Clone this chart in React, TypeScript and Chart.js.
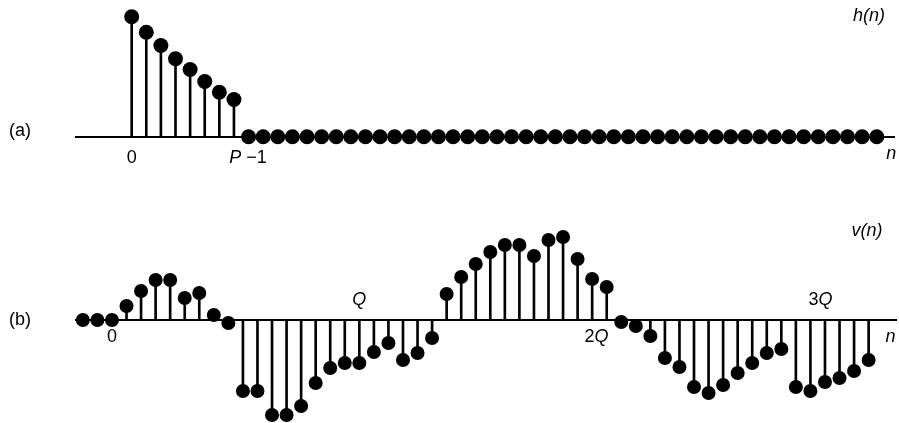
import React, { useEffect, useRef } from "react";
import { Chart, registerables } from "chart.js";

Chart.register(...registerables);

// ---------------- data ----------------
// (a) h(n): first sample index and values (n = 0 .. 51)
const hStartN = 0;
const hValues = [
  1.0, 0.87, 0.76, 0.65, 0.56, 0.46, 0.37, 0.31,
  0, 0, 0, 0, 0, 0, 0, 0, 0, 0, 0, 0, 0, 0, 0, 0, 0, 0, 0, 0, 0, 0,
  0, 0, 0, 0, 0, 0, 0, 0, 0, 0, 0, 0, 0, 0, 0, 0, 0, 0, 0, 0, 0, 0,
];

// (b) v(n): first sample index and values (n = -2 .. 52)
const vStartN = -2;
const vValues = [
  0, 0, 0, 0.14, 0.29, 0.4, 0.4, 0.22, 0.27, 0.05, -0.03,
  -0.71, -0.71, -0.95, -0.95, -0.86, -0.63, -0.48, -0.43, -0.43, -0.32,
  -0.23, -0.4, -0.33, -0.18, 0.26, 0.43, 0.56, 0.68, 0.75, 0.75,
  0.64, 0.8, 0.83, 0.61, 0.41, 0.33, -0.02, -0.06, -0.16, -0.38,
  -0.47, -0.67, -0.73, -0.65, -0.53, -0.43, -0.33, -0.29, -0.67, -0.71,
  -0.62, -0.58, -0.51, -0.4,
];

// axis annotation texts
const hAxisLabels = ["0", "P", " \u22121", "n"];
const vAxisLabels = ["0", "Q", "2", "3", "n"];
const panelLabels = ["(a)", "(b)"];
const seriesNames = ["h(n)", "v(n)"];

// ---------------- drawing helpers ----------------
type Run = { t: string; italic?: boolean };
type AxisLabel = { runs: Run[]; n: number; dy: number };
type FreeLabel = { runs: Run[]; x: number; y: number };

const FONT_FAMILY = '"Liberation Sans", Arial, Helvetica, sans-serif';
const FONT_SIZE = 18;

function drawRuns(ctx: CanvasRenderingContext2D, runs: Run[], cx: number, cy: number) {
  const fontFor = (r: Run) => `${r.italic ? "italic " : ""}${FONT_SIZE}px ${FONT_FAMILY}`;
  let total = 0;
  for (const r of runs) {
    ctx.font = fontFor(r);
    total += ctx.measureText(r.t).width;
  }
  let x = cx - total / 2;
  ctx.textBaseline = "middle";
  ctx.textAlign = "left";
  ctx.fillStyle = "#000";
  for (const r of runs) {
    ctx.font = fontFor(r);
    ctx.fillText(r.t, x, cy);
    x += ctx.measureText(r.t).width;
  }
}

function makeTextPlugin(axisLabels: AxisLabel[], freeLabels: FreeLabel[]) {
  return {
    id: "stemText",
    afterDraw(chart: any) {
      const ctx: CanvasRenderingContext2D = chart.ctx;
      const xs = chart.scales.x;
      const ys = chart.scales.y;
      const y0 = ys.getPixelForValue(0);
      ctx.save();
      for (const l of axisLabels) {
        drawRuns(ctx, l.runs, xs.getPixelForValue(l.n), y0 + l.dy);
      }
      for (const l of freeLabels) {
        drawRuns(ctx, l.runs, l.x, l.y);
      }
      ctx.restore();
    },
  };
}

type StemProps = {
  startN: number;
  values: number[];
  xMin: number;
  xMax: number;
  yMin: number;
  yMax: number;
  width: number;
  height: number;
  padLeft: number;
  padRight: number;
  radius: number;
  axisLabels: AxisLabel[];
  freeLabels: FreeLabel[];
  top: number;
};

function StemChart(p: StemProps) {
  const ref = useRef<HTMLCanvasElement | null>(null);
  useEffect(() => {
    if (!ref.current) return;
    const pts = p.values.map((v, i) => ({ x: p.startN + i, y: v }));
    const chart = new Chart(ref.current, {
      type: "bar",
      data: {
        datasets: [
          {
            type: "line",
            data: pts,
            showLine: false,
            pointRadius: p.radius,
            pointHoverRadius: p.radius,
            pointBackgroundColor: "#000",
            pointBorderColor: "#000",
            pointBorderWidth: 0,
            borderColor: "#000",
            order: 1,
            clip: false,
          } as any,
          {
            type: "bar",
            data: pts,
            backgroundColor: "#000",
            borderWidth: 0,
            barThickness: 2,
            grouped: false,
            order: 2,
            clip: false,
          } as any,
        ],
      },
      options: {
        animation: false,
        responsive: false,
        devicePixelRatio: 1,
        events: [],
        layout: {
          autoPadding: false,
          padding: { left: p.padLeft, right: p.padRight, top: 0, bottom: 0 },
        },
        plugins: { legend: { display: false }, tooltip: { enabled: false } },
        scales: {
          x: {
            type: "linear",
            min: p.xMin,
            max: p.xMax,
            offset: false,
            display: false,
          },
          y: {
            type: "linear",
            min: p.yMin,
            max: p.yMax,
            display: true,
            afterBuildTicks: (s: any) => {
              s.ticks = [{ value: 0 }];
            },
            ticks: { display: false },
            border: { display: false },
            grid: { color: "#000", lineWidth: 2, drawTicks: false },
          },
        },
      } as any,
      plugins: [makeTextPlugin(p.axisLabels, p.freeLabels)],
    });
    return () => chart.destroy();
  }, []);
  return (
    <canvas
      ref={ref}
      width={p.width}
      height={p.height}
      style={{ position: "absolute", left: 0, top: p.top, width: p.width, height: p.height }}
    />
  );
}

export default function App() {
  const topAxis: AxisLabel[] = [
    { runs: [{ t: hAxisLabels[0] }], n: 0, dy: 21 },
    { runs: [{ t: hAxisLabels[1], italic: true }, { t: hAxisLabels[2] }], n: 7.96, dy: 21 },
    { runs: [{ t: hAxisLabels[3], italic: true }], n: 52.0, dy: 17 },
  ];
  const topFree: FreeLabel[] = [
    { runs: [{ t: panelLabels[0] }], x: 20, y: 131 },
    { runs: [{ t: seriesNames[0], italic: true }], x: 869, y: 16 },
  ];
  const botAxis: AxisLabel[] = [
    { runs: [{ t: vAxisLabels[0] }], n: 0, dy: 17 },
    { runs: [{ t: vAxisLabels[1], italic: true }], n: 17.0, dy: -20 },
    { runs: [{ t: vAxisLabels[2] }, { t: vAxisLabels[1], italic: true }], n: 33.3, dy: 17 },
    { runs: [{ t: vAxisLabels[3] }, { t: vAxisLabels[1], italic: true }], n: 48.7, dy: -20 },
    { runs: [{ t: vAxisLabels[4], italic: true }], n: 53.5, dy: 17 },
  ];
  const botFree: FreeLabel[] = [
    { runs: [{ t: panelLabels[1] }], x: 20, y: 150 },
    { runs: [{ t: seriesNames[1], italic: true }], x: 867, y: 61 },
  ];
  return (
    <div style={{ position: "fixed", left: 0, top: 0, width: 899, height: 423, background: "#fff" }}>
      <StemChart
        startN={hStartN}
        values={hValues}
        xMin={-3.88}
        xMax={52.25}
        yMin={-0.2775}
        yMax={1.139}
        width={899}
        height={170}
        padLeft={75}
        padRight={4}
        radius={7.5}
        axisLabels={topAxis}
        freeLabels={topFree}
        top={0}
      />
      <StemChart
        startN={vStartN}
        values={vValues}
        xMin={-2.54}
        xMax={53.95}
        yMin={-1.03}
        yMax={1.5}
        width={899}
        height={253}
        padLeft={75}
        padRight={2}
        radius={7}
        axisLabels={botAxis}
        freeLabels={botFree}
        top={170}
      />
    </div>
  );
}
